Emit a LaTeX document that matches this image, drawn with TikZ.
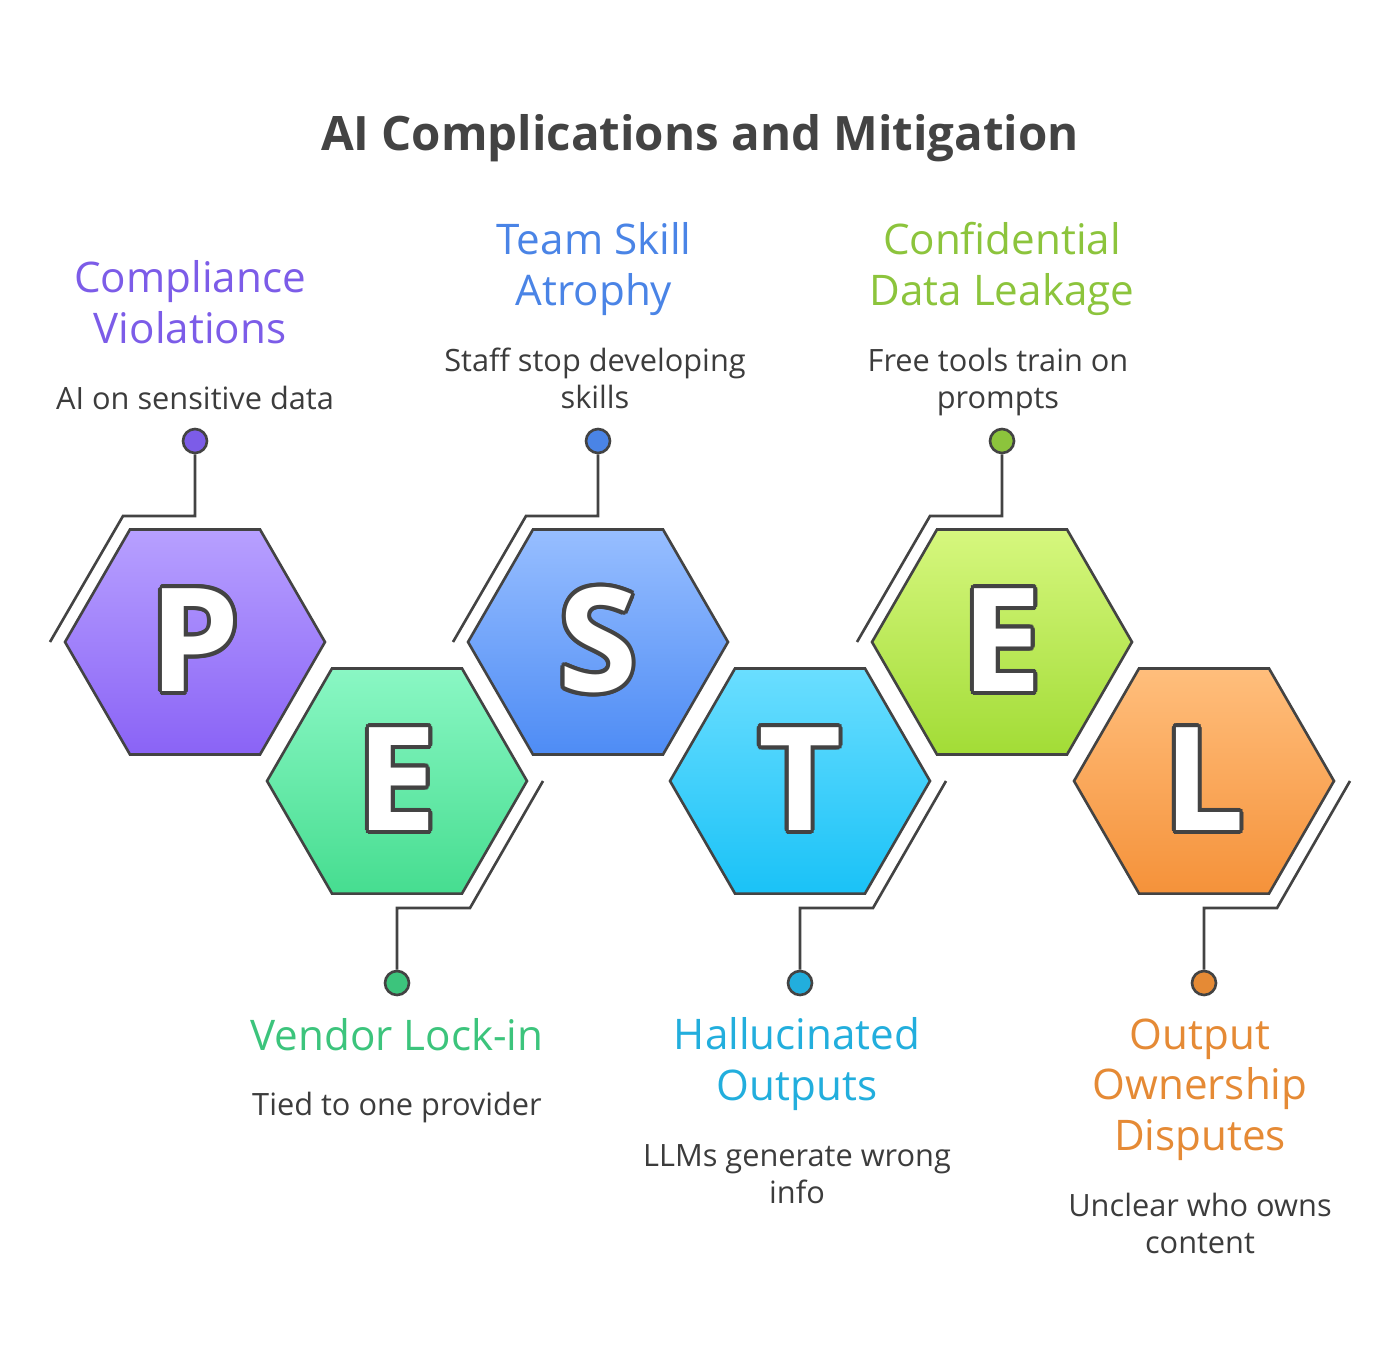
\documentclass[tikz,border=0pt]{standalone}
\usepackage{fontspec}
\setmainfont{Open Sans}
\usepackage{contour}
\usetikzlibrary{shapes.geometric, positioning}
\definecolor{InkGray}{HTML}{434343}
\definecolor{TextGray}{HTML}{3C3C3C}
\definecolor{PurpleTop}{HTML}{B7A0FF}\definecolor{PurpleBot}{HTML}{8A63F6}\definecolor{PurpleText}{HTML}{7C5CE8}
\definecolor{GreenTop}{HTML}{8AF7C4}\definecolor{GreenBot}{HTML}{46DD90}\definecolor{GreenText}{HTML}{3CC47C}
\definecolor{BlueTop}{HTML}{97BEFF}\definecolor{BlueBot}{HTML}{4E8CF5}\definecolor{BlueText}{HTML}{4A84E6}
\definecolor{CyanTop}{HTML}{6ADEFF}\definecolor{CyanBot}{HTML}{1AC2F7}\definecolor{CyanText}{HTML}{22AEDD}
\definecolor{LimeTop}{HTML}{D6F77E}\definecolor{LimeBot}{HTML}{A2DC36}\definecolor{LimeText}{HTML}{8CC43C}
\definecolor{OrangeTop}{HTML}{FFBE7C}\definecolor{OrangeBot}{HTML}{F5923A}\definecolor{OrangeText}{HTML}{E58A35}
\contourlength{2.2pt}
\contournumber{16}
\tikzset{
  hex/.style={regular polygon, regular polygon sides=6, shape border rotate=0,
    minimum size=5.2cm, inner sep=0pt, draw=InkGray, line width=1.5pt},
  letter/.style={font=\fontsize{82}{82}\selectfont\bfseries},
  link/.style={draw=InkGray, line width=1.5pt},
  dot/.style={circle, draw=InkGray, line width=1.5pt, minimum size=0.48cm, inner sep=0pt},
  heading/.style={anchor=base, align=center, font=\fontsize{24}{28.5}\selectfont},
  desc/.style={anchor=base, align=center, text=TextGray, font=\fontsize{17.5}{21}\selectfont}
}
\newcommand{\hexletter}[1]{\contour{InkGray}{\textcolor{white}{#1}}}
\begin{document}
\begin{tikzpicture}[x=0.02cm, y=-0.02cm]
  \useasboundingbox (0,0) rectangle (1400,1362);
  % Title
  \node[anchor=base, text=InkGray, font=\fontsize{27}{34}\selectfont\bfseries] (title) at (700,151) {AI Complications and Mitigation};

  % Hexagons
  \node[hex, top color=PurpleTop, bottom color=PurpleBot] (hexP) at (195,642) {};
  \node[hex, top color=GreenTop, bottom color=GreenBot] (hexE) at (397,781) {};
  \node[hex, top color=BlueTop, bottom color=BlueBot] (hexS) at (598,642) {};
  \node[hex, top color=CyanTop, bottom color=CyanBot] (hexT) at (800,781) {};
  \node[hex, top color=LimeTop, bottom color=LimeBot] (hexEn) at (1002,642) {};
  \node[hex, top color=OrangeTop, bottom color=OrangeBot] (hexL) at (1204,781) {};
  \foreach \h/\l in {hexP/P, hexE/E, hexS/S, hexT/T, hexEn/E, hexL/L}
    \node[letter] at (\h) {\hexletter{\l}};

  % Dots
  \node[dot, fill=PurpleText] (dotP) at (195,441) {};
  \node[dot, fill=GreenText] (dotE) at (397,983) {};
  \node[dot, fill=BlueText] (dotS) at (598,441) {};
  \node[dot, fill=CyanText] (dotT) at (800,983) {};
  \node[dot, fill=LimeText] (dotEn) at (1002,441) {};
  \node[dot, fill=OrangeText] (dotL) at (1204,983) {};

  % Connectors
  \foreach \d/\x in {dotP/195, dotS/598, dotEn/1002}
    \draw[link] (\d) -- (\x,516) -- (\x-72,516) -- (\x-145,642);
  \foreach \d/\x in {dotE/397, dotT/800, dotL/1204}
    \draw[link] (\d) -- (\x,908) -- (\x+73,908) -- (\x+146,781);

  % Labels (base = last line)
  \node[heading, text=PurpleText] (headP) at (190,343) {Compliance\\Violations};
  \node[desc] (descP) at (195,409) {AI on sensitive data};
  \node[heading, text=BlueText] (headS) at (594,305) {Team Skill\\Atrophy};
  \node[desc] (descS) at (595,408) {Staff stop developing\\skills};
  \node[heading, text=LimeText] (headEn) at (1002,305) {Confidential\\Data Leakage};
  \node[desc] (descEn) at (998,408) {Free tools train on\\prompts};
  \node[heading, text=GreenText] (headE) at (397,1050) {Vendor Lock-in};
  \node[desc] (descE) at (397,1115) {Tied to one provider};
  \node[heading, text=CyanText] (headT) at (797,1100) {Hallucinated\\Outputs};
  \node[desc] (descT) at (797,1203) {LLMs generate wrong\\info};
  \node[heading, text=OrangeText] (headL) at (1200,1150) {Output\\Ownership\\Disputes};
  \node[desc] (descL) at (1200,1253) {Unclear who owns\\content};
\end{tikzpicture}
\end{document}
